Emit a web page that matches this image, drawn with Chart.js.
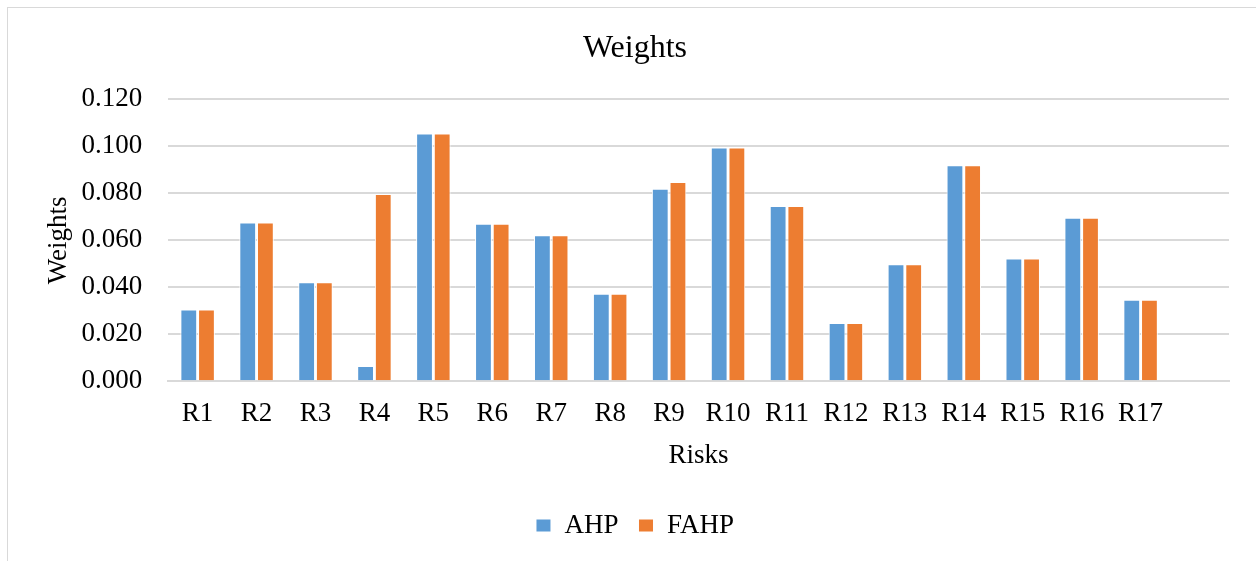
<!DOCTYPE html>
<html>
<head>
<meta charset="utf-8">
<script src="https://cdn.jsdelivr.net/npm/chart.js@4.4.1/dist/chart.umd.min.js"></script>
<style>
  html, body { margin: 0; padding: 0; background: #fff; }
  #frame {
    position: absolute; left: 7px; top: 7px; width: 1248px; height: 560px;
    border-left: 1px solid #d9d9d9; border-top: 1px solid #d9d9d9; border-right: 1px solid #d9d9d9;
  }
  #wrap { position: absolute; left: 0; top: 0; width: 1256px; height: 561px; }
</style>
</head>
<body>
<div id="frame"></div>
<div id="wrap"><canvas id="weightsChart"></canvas></div>
<script>
// Risk weights, AHP vs fuzzy AHP
const risks = ['R1', 'R2', 'R3', 'R4', 'R5', 'R6', 'R7', 'R8', 'R9', 'R10',
    'R11', 'R12', 'R13', 'R14', 'R15', 'R16', 'R17', ''];
const ahp = [0.0305, 0.0676, 0.0421, 0.0065, 0.1055, 0.0670, 0.0622, 0.0372, 0.0820,
    0.0995, 0.0746, 0.0248, 0.0498, 0.0920, 0.0522, 0.0696, 0.0347, null];
const fahp = [0.0305, 0.0676, 0.0421, 0.0797, 0.1055, 0.0670, 0.0622, 0.0372, 0.0848,
    0.0995, 0.0746, 0.0248, 0.0498, 0.0920, 0.0522, 0.0696, 0.0347, null];
const yTicks = [0, 0.02, 0.04, 0.06, 0.08, 0.10, 0.12];

const serif = '"Liberation Serif", "Times New Roman", serif';
Chart.defaults.font.family = serif;
Chart.defaults.color = '#000';

const ctx = document.getElementById('weightsChart').getContext('2d');
const weightsChart = new Chart(ctx, {
    type: 'bar',
    data: {
        labels: risks,
        datasets: [{
            label: 'AHP',
            data: ahp,
            backgroundColor: '#5b9bd5',
            borderColor: '#ffffff',
            borderWidth: 1
        }, {
            label: 'FAHP',
            data: fahp,
            backgroundColor: '#ed7d31',
            borderColor: '#ffffff',
            borderWidth: 1
        }]
    },
    options: {
        responsive: true,
        maintainAspectRatio: false,
        animation: false,
        datasets: {
            bar: {
                categoryPercentage: 0.6,
                barPercentage: 0.95
            }
        },
        layout: {
            padding: { left: 41, right: 27, top: 21, bottom: 12 }
        },
        plugins: {
            title: {
                display: true,
                text: 'Weights',
                font: { size: 32, weight: 'normal' },
                padding: { top: 8, bottom: 32 }
            },
            legend: {
                position: 'bottom',
                labels: {
                    boxWidth: 15,
                    boxHeight: 13,
                    padding: 20,
                    font: { size: 27 }
                }
            },
            tooltip: { enabled: false }
        },
        scales: {
            x: {
                grid: { display: false },
                border: { display: true, color: '#d9d9d9', width: 2 },
                ticks: { font: { size: 27 }, padding: 9, maxRotation: 0, autoSkip: false },
                title: {
                    display: true,
                    text: 'Risks',
                    font: { size: 27 },
                    padding: { top: 0, bottom: 20 }
                }
            },
            y: {
                min: 0,
                max: 0.12,
                afterBuildTicks: function(axis) {
                    axis.ticks = yTicks.map(v => ({ value: v }));
                },
                afterFit: function(axis) {
                    axis.width -= 20;
                },
                grid: { color: '#d9d9d9', lineWidth: 2, drawTicks: false },
                border: { display: false },
                ticks: {
                    font: { size: 27 },
                    padding: 26,
                    callback: function(value) {
                        return value.toFixed(3);
                    }
                },
                title: {
                    display: true,
                    text: 'Weights',
                    font: { size: 27 },
                    padding: { top: 2, bottom: 0 }
                }
            }
        }
    }
});
</script>
</body>
</html>
